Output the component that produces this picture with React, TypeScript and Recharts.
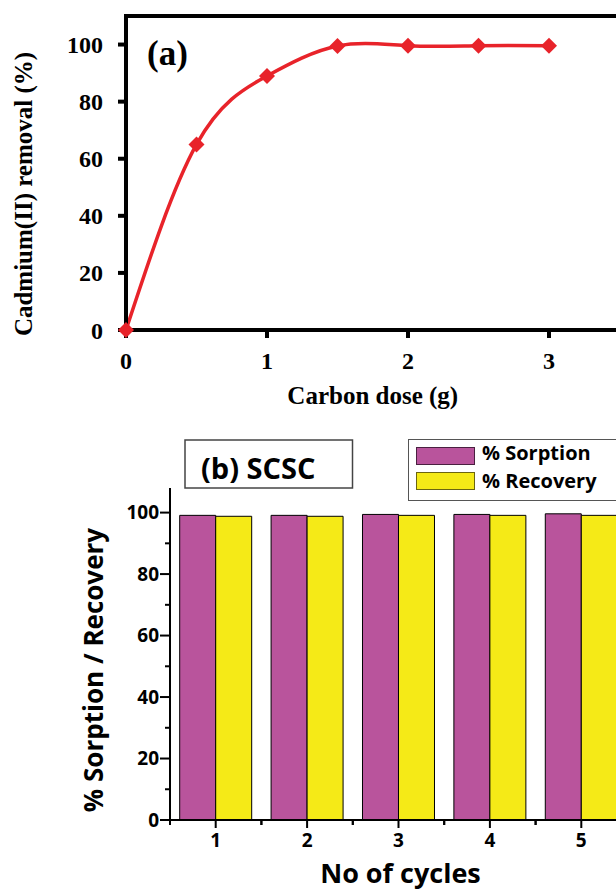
import React from 'react'
import { LineChart, Line, XAxis, YAxis, ReferenceLine, BarChart, Bar, Legend } from 'recharts'

// (a) cadmium removal vs carbon dose
const doses = [0, 0.5, 1, 1.5, 2, 2.5, 3]
const removal = [0, 65, 89, 99.5, 99.6, 99.6, 99.6]
const doseTicks = [0, 1, 2, 3]
const removalTicks = [0, 20, 40, 60, 80, 100]

// (b) sorption / recovery over reuse cycles
const cycles = ['1', '2', '3', '4', '5']
const sorption = [99.1, 99.1, 99.4, 99.4, 99.6]
const recovery = [98.8, 98.8, 99.1, 99.1, 99.1]
const percentTicks = [0, 10, 20, 30, 40, 50, 60, 70, 80, 90, 100]

const serif = '"Liberation Serif", "Times New Roman", serif'
const sans = '"Open Sans", Arial, sans-serif'
const RED = '#E8232A'
const PURPLE = '#B9549C'
const YELLOW = '#F5EA17'

const doseData = doses.map((d, i) => ({ dose: d, removal: removal[i] }))
const cycleData = cycles.map((c, i) => ({ cycle: c, sorption: sorption[i], recovery: recovery[i] }))

const B_WIDTH = 640
const B_MARGIN = { top: 58, right: 13, bottom: 0, left: 0 }
const B_YAXIS_W = 170
const B_PLOT_W = B_WIDTH - B_MARGIN.left - B_MARGIN.right - B_YAXIS_W

function Diamond(props: any) {
  const { cx, cy, index } = props
  if (cx == null || cy == null) return <g key={`dm-${index}`} />
  const r = 8
  return (
    <path
      key={`dm-${index}`}
      d={`M${cx},${cy - r} L${cx + r},${cy} L${cx},${cy + r} L${cx - r},${cy} Z`}
      fill={RED}
    />
  )
}

function RemovalTitle(props: any) {
  const { x, y, height } = props.viewBox
  const tx = x + 32
  const ty = y + height / 2 + 21
  return (
    <g>
      <text
        x={tx}
        y={ty}
        transform={`rotate(-90 ${tx} ${ty})`}
        textAnchor="middle"
        fontFamily={serif}
        fontWeight={700}
        fontSize={25}
        fill="#000"
      >
        Cadmium(II) removal (%)
      </text>
      <text x={147} y={65} fontFamily={serif} fontWeight={700} fontSize={35} fill="#000">
        (a)
      </text>
    </g>
  )
}

function DoseTitle(props: any) {
  const { x, y, width } = props.viewBox
  return (
    <text
      x={x + width / 2}
      y={y + 74}
      textAnchor="middle"
      fontFamily={serif}
      fontWeight={700}
      fontSize={25}
      fill="#000"
    >
      Carbon dose (g)
    </text>
  )
}

function PercentTick(props: any) {
  const { x, y, payload } = props
  const axisX = x + 11
  const major = payload.value % 20 === 0
  return (
    <g>
      <line x1={axisX - (major ? 10 : 5)} x2={axisX} y1={y} y2={y} stroke="#000" strokeWidth={2} />
      {major && (
        <text
          x={x}
          y={y}
          dy="0.36em"
          textAnchor="end"
          fontFamily={sans}
          fontWeight={700}
          fontSize={19}
          fill="#000"
        >
          {payload.value}
        </text>
      )}
    </g>
  )
}

function CycleTick(props: any) {
  const { x, y, payload } = props
  const axisY = y - 13
  const half = B_PLOT_W / cycles.length / 2
  return (
    <g>
      <line x1={x} x2={x} y1={axisY} y2={axisY + 8} stroke="#000" strokeWidth={2} />
      <line x1={x - half} x2={x - half} y1={axisY} y2={axisY + 5} stroke="#000" strokeWidth={2} />
      <line x1={x + half} x2={x + half} y1={axisY} y2={axisY + 5} stroke="#000" strokeWidth={2} />
      <text
        x={x}
        y={y}
        dy="0.72em"
        textAnchor="middle"
        fontFamily={sans}
        fontWeight={700}
        fontSize={19}
        fill="#000"
      >
        {payload.value}
      </text>
    </g>
  )
}

function PercentTitle(props: any) {
  const { x, y, height } = props.viewBox
  const tx = x + 103
  const ty = y + height / 2 + 16
  return (
    <g>
      <text
        x={tx}
        y={ty}
        transform={`rotate(-90 ${tx} ${ty})`}
        textAnchor="middle"
        fontFamily={sans}
        fontWeight={700}
        fontSize={26}
        fill="#000"
      >
        % Sorption / Recovery
      </text>
      <rect x={185} y={10} width={167.5} height={48} fill="#fff" stroke="#444" strokeWidth={1.5} />
      <text x={201} y={48.5} fontFamily={sans} fontWeight={700} fontSize={29} fill="#000">
        (b) SCSC
      </text>
    </g>
  )
}

function CycleTitle(props: any) {
  const { x, y, width } = props.viewBox
  return (
    <text
      x={x + width / 2 + 2}
      y={y + 63}
      textAnchor="middle"
      fontFamily={sans}
      fontWeight={700}
      fontSize={27}
      fill="#000"
    >
      No of cycles
    </text>
  )
}

function BoxLegend() {
  const rows = [
    { name: '% Sorption', fill: PURPLE, edge: '#4a2040' },
    { name: '% Recovery', fill: YELLOW, edge: '#6b6510' },
  ]
  return (
    <div
      style={{
        position: 'relative',
        width: 240,
        height: 62,
        boxSizing: 'border-box',
        border: '1.5px solid #555',
        background: '#fff',
        fontFamily: sans,
        fontWeight: 700,
        fontSize: 20,
        lineHeight: '20px',
        color: '#000',
      }}
    >
      {rows.map((r, i) => (
        <React.Fragment key={r.name}>
          <div
            style={{
              position: 'absolute',
              left: 7.5,
              top: 6.8 + i * 25.4,
              width: 59,
              height: 18,
              boxSizing: 'border-box',
              background: r.fill,
              border: `1.5px solid ${r.edge}`,
            }}
          />
          <div style={{ position: 'absolute', left: 73.5, top: 3.4 + i * 27.5, whiteSpace: 'nowrap' }}>
            {r.name}
          </div>
        </React.Fragment>
      ))}
    </div>
  )
}

export default function App() {
  const frame = { stroke: '#000', strokeWidth: 4, strokeLinecap: 'square' as const }
  const tickLine = { stroke: '#000', strokeWidth: 4 }
  const serifTick = { fill: '#000', fontSize: 24, fontFamily: serif, fontWeight: 700 }

  return (
    <div
      style={{
        position: 'absolute',
        left: 0,
        top: 0,
        width: 616,
        height: 891,
        overflow: 'hidden',
        background: '#fff',
      }}
    >
      <div style={{ position: 'absolute', left: 0, top: 0 }}>
        <LineChart
          width={640}
          height={420}
          data={doseData}
          margin={{ top: 16, right: 20.5, bottom: 0, left: 0 }}
        >
          <XAxis
            type="number"
            dataKey="dose"
            domain={[0, 3.5]}
            ticks={doseTicks}
            height={90}
            tickSize={8}
            tickMargin={14}
            axisLine={frame}
            tickLine={tickLine}
            tick={serifTick}
            label={DoseTitle}
          />
          <YAxis
            type="number"
            domain={[0, 110]}
            ticks={removalTicks}
            width={126}
            tickSize={8}
            tickMargin={15}
            axisLine={frame}
            tickLine={tickLine}
            tick={serifTick}
            interval={0}
            label={RemovalTitle}
          />
          <ReferenceLine y={110} stroke="#000" strokeWidth={4} />
          <ReferenceLine x={3.5} stroke="#000" strokeWidth={4} />
          <Line
            type="natural"
            dataKey="removal"
            stroke={RED}
            strokeWidth={3.5}
            dot={Diamond}
            activeDot={false}
            isAnimationActive={false}
          />
        </LineChart>
      </div>

      <div style={{ position: 'absolute', left: 0, top: 430 }}>
        <BarChart
          width={B_WIDTH}
          height={461}
          data={cycleData}
          margin={B_MARGIN}
          barCategoryGap="10.6%"
          barGap={0}
        >
          <XAxis
            dataKey="cycle"
            height={71}
            tickSize={8}
            tickMargin={5}
            tickLine={false}
            axisLine={{ stroke: '#000', strokeWidth: 2 }}
            tick={CycleTick}
            interval={0}
            label={CycleTitle}
          />
          <YAxis
            type="number"
            domain={[0, 108]}
            ticks={percentTicks}
            width={B_YAXIS_W}
            tickSize={10}
            tickMargin={1}
            tickLine={false}
            axisLine={{ stroke: '#000', strokeWidth: 2 }}
            tick={PercentTick}
            interval={0}
            label={PercentTitle}
          />
          <Legend
            layout="horizontal"
            verticalAlign="middle"
            align="center"
            content={BoxLegend}
            wrapperStyle={{ left: 407.5, top: 9, width: 240, height: 62 }}
          />
          <Bar
            dataKey="sorption"
            name="% Sorption"
            fill={PURPLE}
            stroke="#000"
            strokeWidth={1}
            isAnimationActive={false}
          />
          <Bar
            dataKey="recovery"
            name="% Recovery"
            fill={YELLOW}
            stroke="#000"
            strokeWidth={1}
            isAnimationActive={false}
          />
        </BarChart>
      </div>
    </div>
  )
}
